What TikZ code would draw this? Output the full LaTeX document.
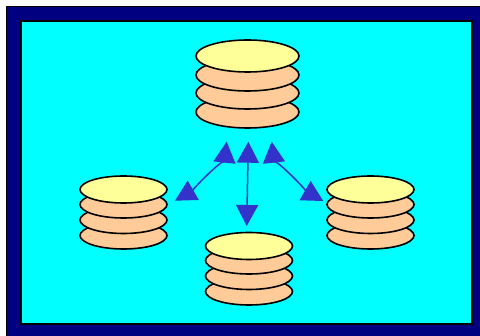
\documentclass[tikz,border=0pt]{standalone}
\usetikzlibrary{shapes.geometric,arrows.meta}
\definecolor{navyframe}{RGB}{0,0,128}
\definecolor{aqua}{RGB}{0,255,255}
\definecolor{plate}{RGB}{255,204,153}
\definecolor{topplate}{RGB}{255,255,153}
\definecolor{arrowblue}{RGB}{51,51,204}
\tikzset{
  platebase/.style={ellipse,draw=black,line width=1.6pt,inner sep=0pt,fill=plate},
  big/.style={platebase,minimum width=103pt,minimum height=32pt},
  small/.style={platebase,minimum width=87pt,minimum height=27pt},
  top/.style={fill=topplate},
  link/.style={draw=arrowblue,line width=1.5pt,{Triangle[length=21pt,width=22pt,fill=arrowblue]}-{Triangle[length=21pt,width=22pt,fill=arrowblue]}}
}
\begin{document}
\begin{tikzpicture}[x=1pt,y=-1pt]
\useasboundingbox (0,0) rectangle (480,336);
\fill[white] (0,0) rectangle (480,336);
\fill[navyframe,draw=black,line width=1.5pt] (6.5,6.5) rectangle (483,339);
\fill[aqua,draw=black,line width=2.4pt] (21,21) rectangle (472,324);
% centre stack
\node[big] (a4) at (247.5,112) {};
\node[big] (a3) at (247.5,93) {};
\node[big] (a2) at (247.5,75) {};
\node[big,top] (a1) at (247.5,56) {};
% left stack
\node[small] (b4) at (123.5,235.5) {};
\node[small] (b3) at (123.5,220) {};
\node[small] (b2) at (123.5,204.5) {};
\node[small,top] (b1) at (123.5,189.5) {};
% right stack
\node[small] (c4) at (370.5,235.5) {};
\node[small] (c3) at (370.5,220) {};
\node[small] (c2) at (370.5,204.5) {};
\node[small,top] (c1) at (370.5,189.5) {};
% bottom stack
\node[small] (d4) at (249,291.5) {};
\node[small] (d3) at (249,276) {};
\node[small] (d2) at (249,260.5) {};
\node[small,top] (d1) at (249,246) {};
% arrow ends
\coordinate (p1) at (226.7,141.7);
\coordinate (q1) at (175,200.7);
\coordinate (p2) at (248.3,141.7);
\coordinate (q2) at (246.7,226);
\coordinate (p3) at (271.7,141.7);
\coordinate (q3) at (323.3,201);
\draw[link] (p1) .. controls (225.2,155.7) and (189,192.7) .. (q1);
\draw[link] (p2) -- (q2);
\draw[link] (p3) .. controls (273.2,155.7) and (309.3,193) .. (q3);
\end{tikzpicture}
\end{document}
